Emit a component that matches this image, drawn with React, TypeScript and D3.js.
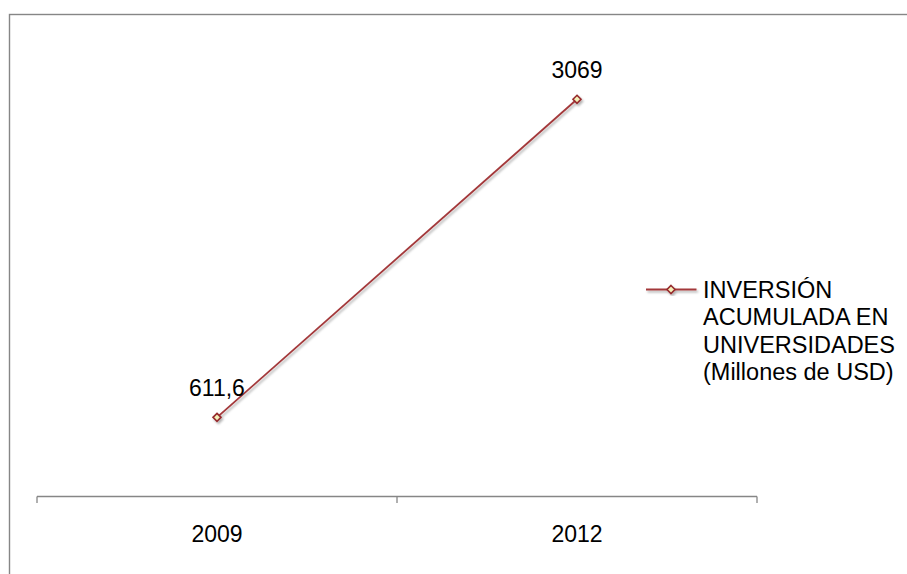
import React from "react";
import * as d3 from "d3";

// Accumulated university investment (millions of USD)
const categories: string[] = ["2009", "2012"];
const values: number[] = [611.6, 3069];
const valueLabels: string[] = ["611,6", "3069"];
const legendLines: string[] = [
  "INVERSIÓN",
  "ACUMULADA EN",
  "UNIVERSIDADES",
  "(Millones de USD)",
];

const W = 907;
const H = 574;
const FONT = "'Liberation Sans', Arial, Helvetica, sans-serif";
const LINE_COLOR = "#a3383a";
const MARKER_STROKE = "#962a2d";
const MARKER_FILL = "#f3f0b8";
const AXIS_COLOR = "#868686";

export default function App() {
  const x = d3.scaleBand<string>().domain(categories).range([37, 757]);
  const y = d3.scaleLinear().domain([0, 3500]).range([496.5, 43.5]);
  const cx = (c: string) => (x(c) ?? 0) + x.bandwidth() / 2;

  const pts = categories.map((c, i) => ({ c, v: values[i], label: valueLabels[i] }));
  const lineGen = d3
    .line<{ c: string; v: number }>()
    .x((d) => cx(d.c))
    .y((d) => y(d.v));

  const diamond = (px: number, py: number, r: number) =>
    `M${px},${py - r}L${px + r},${py}L${px},${py + r}L${px - r},${py}Z`;

  const tickXs = [x.range()[0], ...categories.map((c) => (x(c) ?? 0) + x.bandwidth())];
  const axisY = y(0);

  const legendY = 289.5;
  const legendTextX = 703;

  return (
    <svg
      width={W}
      height={H}
      style={{ position: "absolute", left: 0, top: 0, display: "block", background: "#fff" }}
      fontFamily={FONT}
    >
      <defs>
        <filter id="softShadow" x="-20%" y="-20%" width="140%" height="140%">
          <feDropShadow dx="1.5" dy="2" stdDeviation="1.3" floodColor="#000" floodOpacity="0.3" />
        </filter>
      </defs>

      {/* chart frame */}
      <rect x={9.5} y={14.5} width={1000} height={1000} fill="none" stroke={AXIS_COLOR} strokeWidth={1.4} />

      {/* category axis */}
      <line x1={tickXs[0]} x2={tickXs[tickXs.length - 1]} y1={axisY} y2={axisY} stroke={AXIS_COLOR} strokeWidth={1.3} />
      {tickXs.map((tx, i) => (
        <line key={i} x1={tx} x2={tx} y1={axisY} y2={axisY + 6.5} stroke={AXIS_COLOR} strokeWidth={1.3} />
      ))}
      {categories.map((c) => (
        <text key={c} x={cx(c)} y={542} textAnchor="middle" fontSize={23} fill="#000">
          {c}
        </text>
      ))}

      {/* series */}
      <g filter="url(#softShadow)">
        <path d={lineGen(pts) ?? ""} fill="none" stroke={LINE_COLOR} strokeWidth={1.8} />
        {pts.map((p) => (
          <path
            key={p.c}
            d={diamond(cx(p.c), y(p.v), 4)}
            fill={MARKER_FILL}
            stroke={MARKER_STROKE}
            strokeWidth={1.6}
          />
        ))}
      </g>

      {/* value labels */}
      {pts.map((p) => (
        <text key={p.c} x={cx(p.c)} y={y(p.v) - 21} textAnchor="middle" fontSize={23} fill="#000">
          {p.label}
        </text>
      ))}

      {/* legend */}
      <g filter="url(#softShadow)">
        <line x1={646} x2={696.5} y1={legendY} y2={legendY} stroke={LINE_COLOR} strokeWidth={1.8} />
        <path d={diamond(671, legendY, 4)} fill={MARKER_FILL} stroke={MARKER_STROKE} strokeWidth={1.6} />
      </g>
      {legendLines.map((t, i) => (
        <text key={i} x={legendTextX} y={297.5 + i * 27.5} fontSize={23.5} fill="#000">
          {t}
        </text>
      ))}
    </svg>
  );
}
